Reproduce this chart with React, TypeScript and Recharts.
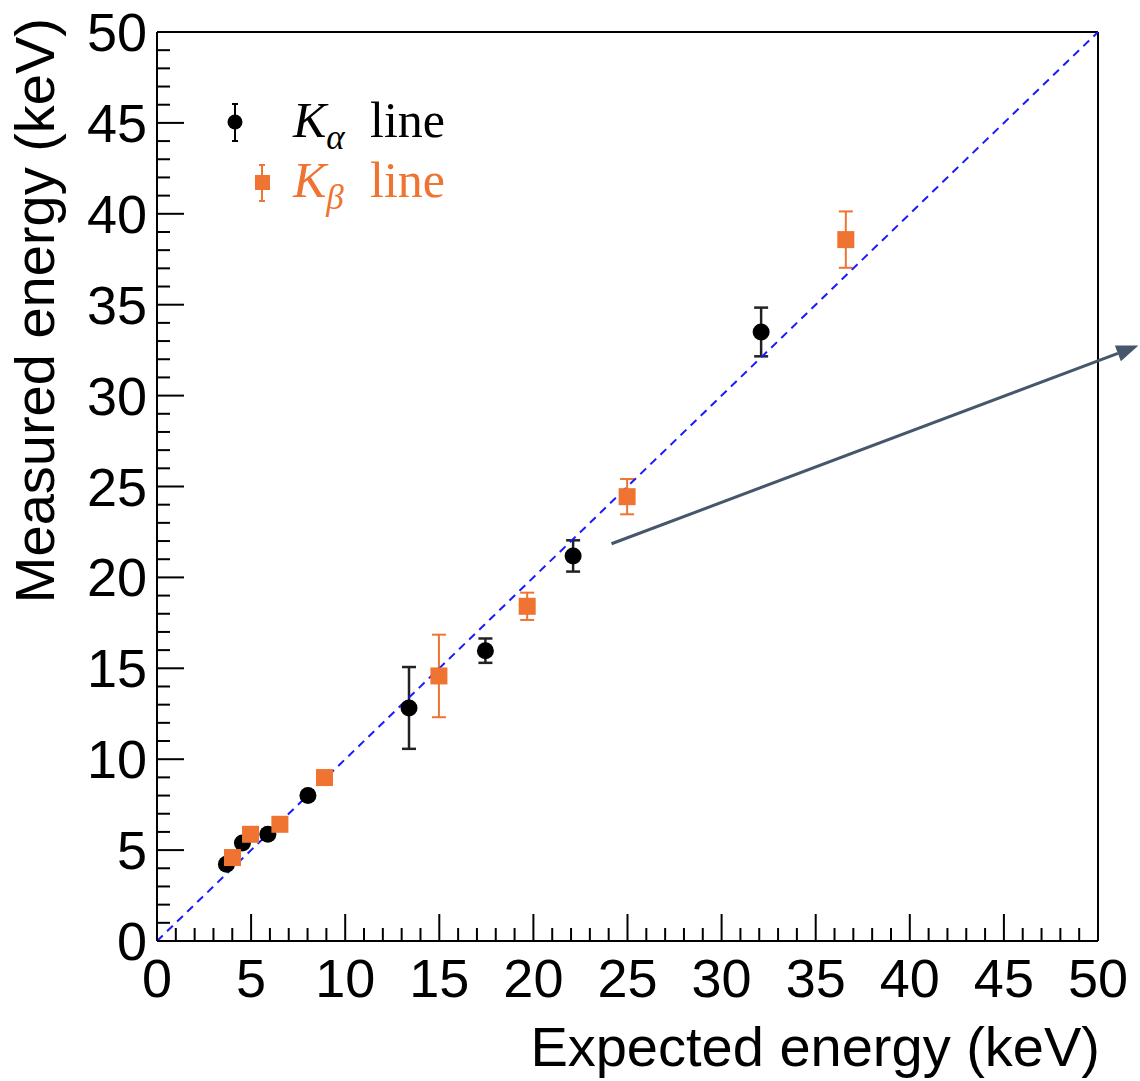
import React from "react";
import {
  ScatterChart,
  Scatter,
  XAxis,
  YAxis,
  ErrorBar,
  ReferenceLine,
} from "recharts";

// K-alpha line: expected vs measured energy (keV)
const kaExpected = [3.69, 4.54, 5.89, 8.02, 13.39, 17.45, 22.11, 32.1];
const kaMeasured = [4.22, 5.39, 5.87, 8.0, 12.82, 15.97, 21.18, 33.5];
const kaError = [0.15, 0.15, 0.15, 0.15, 2.25, 0.67, 0.86, 1.34];

// K-beta line
const kbExpected = [4.01, 4.97, 6.53, 8.9, 14.98, 19.67, 24.98, 36.6];
const kbMeasured = [4.59, 5.87, 6.42, 8.99, 14.58, 18.41, 24.44, 38.58];
const kbError = [0.15, 0.15, 0.15, 0.15, 2.27, 0.75, 0.97, 1.55];

// axis ticks: labelled every 5 keV, minor ticks every 1 keV
const majorTicks = [0, 5, 10, 15, 20, 25, 30, 35, 40, 45, 50];
const minorTicks = Array.from({ length: 51 }, (_, i) => i);

// annotation arrow, in keV coordinates
const arrowFrom = { x: 24.15, y: 21.85 };
const arrowTo = { x: 52.15, y: 32.75 };

const kaData = kaExpected.map((x, i) => ({ x, y: kaMeasured[i], err: kaError[i] }));
const kbData = kbExpected.map((x, i) => ({ x, y: kbMeasured[i], err: kbError[i] }));

const SANS = '"Liberation Sans", Arial, Helvetica, sans-serif';
const SERIF = '"Liberation Serif", "Times New Roman", serif';
const ORANGE = "#ef7331";
const ARROW = "#46566b";

function XTick(props: any) {
  const { x, y, payload } = props;
  const v = payload.value;
  const major = majorTicks.includes(v);
  return (
    <g>
      <line x1={x} x2={x} y1={y} y2={y - (major ? 27 : 13)} stroke="#000" strokeWidth={2} />
      {major && (
        <text x={x} y={y + 56} textAnchor="middle" fontSize={54} fontFamily={SANS} fill="#000">
          {v}
        </text>
      )}
    </g>
  );
}

function YTick(props: any) {
  const { x, y, payload } = props;
  const v = payload.value;
  const major = majorTicks.includes(v);
  return (
    <g>
      <line x1={x} x2={x + (major ? 27 : 13)} y1={y} y2={y} stroke="#000" strokeWidth={2} />
      {major && (
        <text x={x - 10} y={y + 19} textAnchor="end" fontSize={54} fontFamily={SANS} fill="#000">
          {v}
        </text>
      )}
    </g>
  );
}

function Dot(props: any) {
  const { cx, cy } = props;
  return <circle cx={cx} cy={cy} r={8.5} fill="#000" />;
}

function Square(props: any) {
  const { cx, cy } = props;
  return <rect x={cx - 8.5} y={cy - 8.5} width={17} height={17} fill={ORANGE} />;
}

function Arrow(props: any) {
  const { x1, y1, x2, y2 } = props;
  const a = Math.atan2(y2 - y1, x2 - x1);
  const len = 22;
  const half = 8.5;
  const bx = x2 - len * Math.cos(a);
  const by = y2 - len * Math.sin(a);
  const nx = -Math.sin(a) * half;
  const ny = Math.cos(a) * half;
  return (
    <g>
      <line x1={x1} y1={y1} x2={bx} y2={by} stroke={ARROW} strokeWidth={3} />
      <polygon points={`${x2},${y2} ${bx + nx},${by + ny} ${bx - nx},${by - ny}`} fill={ARROW} />
    </g>
  );
}

function Legend() {
  return (
    <svg
      width={300}
      height={140}
      style={{ position: "absolute", left: 200, top: 80, overflow: "visible" }}
    >
      {/* K alpha */}
      <line x1={35} x2={35} y1={24} y2={61} stroke="#000" strokeWidth={2} />
      <line x1={32} x2={38} y1={24} y2={24} stroke="#000" strokeWidth={2} />
      <line x1={32} x2={38} y1={61} y2={61} stroke="#000" strokeWidth={2} />
      <circle cx={35} cy={42} r={7.5} fill="#000" />
      <text x={93} y={57} fontFamily={SERIF} fontSize={50} fill="#000">
        <tspan fontStyle="italic">K</tspan>
        <tspan fontStyle="italic" fontSize={35} dy={12}>α</tspan>
        <tspan x={170} dy={-12}>line</tspan>
      </text>
      {/* K beta */}
      <line x1={62} x2={62} y1={85} y2={121} stroke={ORANGE} strokeWidth={2} />
      <line x1={59} x2={65} y1={85} y2={85} stroke={ORANGE} strokeWidth={2} />
      <line x1={59} x2={65} y1={121} y2={121} stroke={ORANGE} strokeWidth={2} />
      <rect x={55} y={95} width={15} height={15} fill={ORANGE} />
      <text x={93} y={117} fontFamily={SERIF} fontSize={50} fill={ORANGE}>
        <tspan fontStyle="italic">K</tspan>
        <tspan fontStyle="italic" fontSize={35} dy={12}>β</tspan>
        <tspan x={170} dy={-12}>line</tspan>
      </text>
    </svg>
  );
}

export default function App() {
  return (
    <div style={{ position: "absolute", left: 0, top: 0, width: 1140, height: 1081, background: "#fff" }}>
      <ScatterChart
        width={1140}
        height={1081}
        margin={{ top: 32, right: 42, bottom: 0, left: 0 }}
      >
        <XAxis
          type="number"
          dataKey="x"
          domain={[0, 50]}
          ticks={minorTicks}
          interval={0}
          height={140}
          tickSize={0}
          tickMargin={0}
          tick={<XTick />}
          axisLine={{ stroke: "#000", strokeWidth: 2 }}
          tickLine={false}
          allowDataOverflow
          label={{
            content: () => (
              <text x={1100} y={1066} textAnchor="end" fontSize={56} fontFamily={SANS} fill="#000">
                Expected energy (keV)
              </text>
            ),
          }}
        />
        <YAxis
          type="number"
          dataKey="y"
          domain={[0, 50]}
          ticks={minorTicks}
          interval={0}
          width={157}
          tickSize={0}
          tickMargin={0}
          tick={<YTick />}
          axisLine={{ stroke: "#000", strokeWidth: 2 }}
          tickLine={false}
          allowDataOverflow
          label={{
            content: () => (
              <text
                transform="rotate(-90)"
                x={-18}
                y={54}
                textAnchor="end"
                fontSize={56}
                fontFamily={SANS}
                fill="#000"
              >
                Measured energy (keV)
              </text>
            ),
          }}
        />
        <ReferenceLine y={50} stroke="#000" strokeWidth={2} />
        <ReferenceLine x={50} stroke="#000" strokeWidth={2} />
        <Scatter data={kaData} shape={<Dot />} isAnimationActive={false}>
          <ErrorBar dataKey="err" direction="y" width={7} stroke="#222" strokeWidth={2.5} />
        </Scatter>
        <Scatter data={kbData} shape={<Square />} isAnimationActive={false}>
          <ErrorBar dataKey="err" direction="y" width={7} stroke={ORANGE} strokeWidth={2} />
        </Scatter>
        <ReferenceLine
          segment={[
            { x: 0, y: 0 },
            { x: 50, y: 50 },
          ]}
          stroke="#1a1aff"
          strokeWidth={2}
          strokeDasharray="8 6"
        />
        <ReferenceLine
          segment={[arrowFrom, arrowTo]}
          ifOverflow="visible"
          shape={<Arrow />}
        />
      </ScatterChart>
      <Legend />
    </div>
  );
}
